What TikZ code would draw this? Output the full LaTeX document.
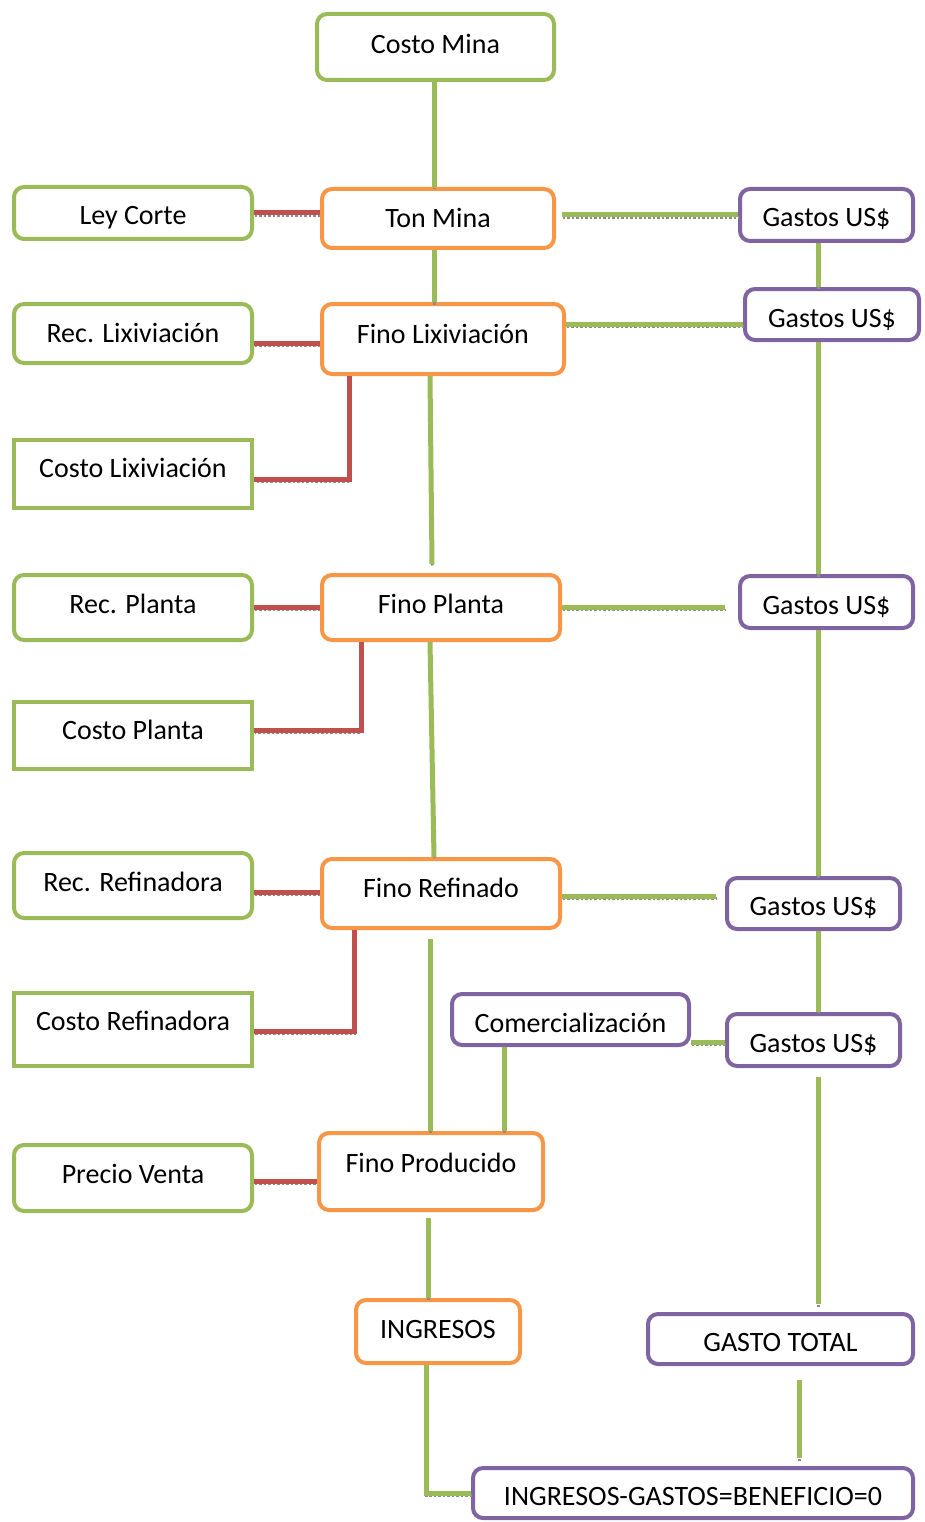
\documentclass[tikz,border=0pt]{standalone}
\usepackage{fontspec}
\setmainfont{Carlito}
\usetikzlibrary{calc}
\definecolor{cgreen}{HTML}{9BBB59}
\definecolor{corange}{HTML}{F79646}
\definecolor{cpurple}{HTML}{8064A2}
\definecolor{cred}{HTML}{C0504D}
\newcommand{\rb}[2]{\raisebox{#1pt}{#2}}
\begin{document}
\begin{tikzpicture}[x=1pt,y=-1pt,
  base/.style={draw, line width=4pt, fill=white, inner sep=0pt, align=center,
    font=\fontsize{28}{32}\selectfont, text=black, text height=18pt, text depth=0pt},
  gbox/.style={base, draw=cgreen, rounded corners=10pt},
  sbox/.style={base, draw=cgreen},
  obox/.style={base, draw=corange, rounded corners=10pt},
  pbox/.style={base, draw=cpurple, rounded corners=10pt},
  conn/.style={line width=5pt,
    preaction={draw=black!45, dotted, line width=2.5pt, transform canvas={shift={(0.5pt,-2.5pt)}}}},
  gline/.style={conn, draw=cgreen},
  rline/.style={conn, draw=cred},
]
\useasboundingbox (0,0) rectangle (925,1522);
% nodes
\node[gbox, minimum width=237, minimum height=66] (cm) at (435.5,47) {\rb{2}{Costo Mina}};
\node[gbox, minimum width=238, minimum height=52] (lc) at (133,213) {\rb{-3}{Ley Corte}};
\node[obox, minimum width=232, minimum height=59] (tm) at (438,218.5) {Ton Mina};
\node[pbox, minimum width=173, minimum height=52] (g1) at (826.5,215) {\rb{-3}{Gastos US\$}};
\node[gbox, minimum width=238, minimum height=59] (rl) at (133,333.5) {Rec. Lixiviación};
\node[obox, minimum width=242, minimum height=70] (fl) at (443,339) {\rb{5}{Fino Lixiviación}};
\node[pbox, minimum width=174, minimum height=51] (g2) at (832,314.5) {\rb{-3.5}{Gastos US\$}};
\node[sbox, minimum width=238, minimum height=68] (cl) at (133,474) {\rb{6}{Costo Lixiviación}};
\node[gbox, minimum width=238, minimum height=65] (rp) at (133,607.5) {\rb{3.5}{Rec. Planta}};
\node[obox, minimum width=238, minimum height=65] (fp) at (441,607.5) {\rb{3.5}{Fino Planta}};
\node[pbox, minimum width=173, minimum height=52] (g3) at (826.5,602) {\rb{-3}{Gastos US\$}};
\node[sbox, minimum width=238, minimum height=67] (cp) at (133,735.5) {\rb{5.5}{Costo Planta}};
\node[gbox, minimum width=238, minimum height=65] (rr) at (133,885.5) {\rb{3.5}{Rec. Refinadora}};
\node[obox, minimum width=238, minimum height=69] (fr) at (441,893.5) {\rb{5.5}{Fino Refinado}};
\node[pbox, minimum width=173, minimum height=51] (g4) at (813.5,903.5) {\rb{-2.5}{Gastos US\$}};
\node[sbox, minimum width=238, minimum height=73] (cr) at (133,1029.5) {\rb{8.5}{Costo Refinadora}};
\node[pbox, minimum width=237, minimum height=51] (co) at (570.5,1019.5) {\rb{-3.5}{Comercialización}};
\node[pbox, minimum width=173, minimum height=52] (g5) at (813.5,1040) {\rb{-3}{Gastos US\$}};
\node[gbox, minimum width=238, minimum height=66] (pv) at (133,1178) {\rb{4}{Precio Venta}};
\node[obox, minimum width=224, minimum height=77] (fpr) at (431,1171.5) {\rb{8.5}{Fino Producido}};
\node[obox, minimum width=164, minimum height=63] (in) at (438,1331.5) {\rb{2.5}{INGRESOS}};
\node[pbox, minimum width=265, minimum height=50] (gt) at (780.5,1339) {\rb{-3}{GASTO TOTAL}};
\node[pbox, minimum width=440, minimum height=50] (ig) at (693,1493) {\rb{-3}{INGRESOS-GASTOS=BENEFICIO=0}};
% connectors
\draw[gline] ([xshift=-1.5]cm.south) -- ([xshift=-1.5]cm.south |- tm.north);
\draw[rline] (lc.east) -- (lc.east -| tm.west);
\draw[gline, shorten <=6pt] (tm.east |- g1.west) -- (g1.west);
\draw[gline] ([xshift=-4]tm.south) -- ([xshift=-4]tm.south |- fl.north);
\draw[gline] ([xshift=-8.5]g1.south) -- ([xshift=-8.5]g1.south |- g2.north);
\draw[rline] ([yshift=-9.5]rl.east) -- ([yshift=-9.5]rl.east -| fl.west);
\draw[gline] ([yshift=15]fl.east) -- ([yshift=15]fl.east -| g2.west);
\draw[rline] ([xshift=-94]fl.south) |- ([yshift=-5]cl.east);
\draw[gline] ([xshift=-13]fl.south) -- ([xshift=-9,yshift=9]fp.north);
\draw[gline] ([xshift=-14]g2.south) -- ([xshift=-14]g2.south |- g3.north);
\draw[rline] (rp.east) -- (fp.west);
\draw[gline, shorten >=13pt] (fp.east) -- (fp.east -| g3.west);
\draw[rline] ([xshift=-80]fp.south) |- ([yshift=5.5]cp.east);
\draw[gline] ([xshift=-11]fp.south) -- ([xshift=-7]fr.north);
\draw[gline] ([xshift=-8.5]g3.south) -- ([xshift=4.5]g4.north);
\draw[rline] ([yshift=-6.5]rr.east) -- ([yshift=-6.5]rr.east -| fr.west);
\draw[gline, shorten >=9pt] ([yshift=-2.5]fr.east) -- ([yshift=-2.5]fr.east -| g4.west);
\draw[rline] ([xshift=-87]fr.south) |- ([yshift=-1.5]cr.east);
\draw[gline, shorten <=9pt] ([xshift=-11]fr.south) -- ([xshift=-11]fr.south |- fpr.north);
\draw[gline] ([xshift=-66.5]co.south) -- ([xshift=-66.5]co.south |- fpr.north);
\draw[gline] ([yshift=-22.5]co.east) -- ([yshift=-22.5]co.east -| g5.west);
\draw[gline] ([xshift=4.5]g4.south) -- ([xshift=4.5]g5.north);
\draw[gline, shorten <=9pt, shorten >=8pt] ([xshift=4.5]g5.south) -- ([xshift=4.5]g5.south |- gt.north);
\draw[rline] ([yshift=-3]pv.east) -- ([yshift=-3]pv.east -| fpr.west);
\draw[gline, shorten <=6pt] ([xshift=-3]fpr.south) -- ([xshift=-3]fpr.south |- in.north);
\draw[gline] ([xshift=-12]in.south) |- (ig.west);
\draw[gline, shorten <=14pt, shorten >=8pt] ([xshift=18.5]gt.south) -- ([xshift=18.5]gt.south |- ig.north);
\end{tikzpicture}
\end{document}
